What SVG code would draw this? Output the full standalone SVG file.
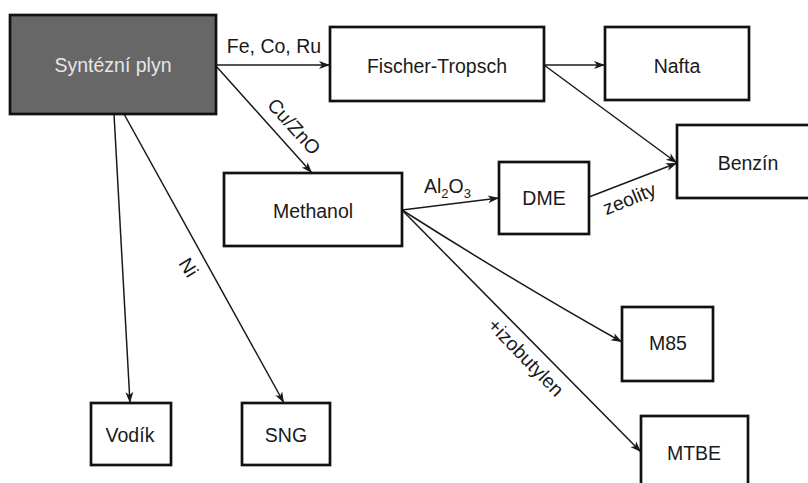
<svg xmlns="http://www.w3.org/2000/svg" width="808" height="483" viewBox="0 0 808 483">
<style>
.box{fill:#fff;stroke:#111;stroke-width:2.7}
.dark{fill:#676767;stroke:#111;stroke-width:2.7}
.t{font-family:"Liberation Sans",Arial,sans-serif;font-size:19.5px;fill:#1a1a1a;text-anchor:middle}
.tl{fill:#e6e6e6}
.c{fill:none;stroke:#1a1a1a;stroke-width:1.5;marker-end:url(#ah)}
</style>
<defs>
<marker id="ah" markerUnits="userSpaceOnUse" markerWidth="12" markerHeight="10" refX="11" refY="4" orient="auto" viewBox="0 0 12 8">
<path d="M0,0 L11,4 L0,8 L3,4 z" fill="#1a1a1a"/>
</marker>
</defs>
<rect width="808" height="483" fill="#fff"/>
<g id="connectors">
<line class="c" x1="216" y1="65" x2="330" y2="65"/>
<line class="c" x1="216" y1="66" x2="312" y2="173"/>
<line class="c" x1="114" y1="114" x2="130" y2="403"/>
<line class="c" x1="124" y1="114" x2="284" y2="403"/>
<line class="c" x1="544" y1="65" x2="605" y2="65"/>
<line class="c" x1="544" y1="65" x2="677" y2="163"/>
<line class="c" x1="589" y1="197" x2="677" y2="163"/>
<line class="c" x1="402" y1="210" x2="499" y2="198"/>
<path class="c" d="M402,210 Q520,285 622,342"/>
<line class="c" x1="402" y1="210" x2="641" y2="452"/>
<text class="t" x="274" y="53">Fe, Co, Ru</text>
<text class="t" transform="translate(289,131) rotate(48)">Cu/ZnO</text>
<text class="t" transform="translate(183,271) rotate(58)">Ni</text>
<text class="t" x="424" y="193" style="text-anchor:start">Al<tspan font-size="13" dy="5">2</tspan><tspan dy="-5">O</tspan><tspan font-size="13" dy="5">3</tspan></text>
<text class="t" transform="translate(632,205) rotate(-22)">zeolity</text>
<text class="t" transform="translate(521,362) rotate(46)">+izobutylen</text>
</g>
<g id="syngas">
<rect class="dark" x="10" y="15" width="206" height="99"/>
<text class="t tl" x="113" y="72">Syntézní plyn</text>
</g>
<g id="fischer">
<rect class="box" x="330" y="27" width="214" height="74"/>
<text class="t" x="437" y="73">Fischer-Tropsch</text>
</g>
<g id="nafta">
<rect class="box" x="605" y="27" width="144" height="73"/>
<text class="t" x="677" y="73">Nafta</text>
</g>
<g id="benzin">
<rect class="box" x="677" y="125" width="140" height="73"/>
<text class="t" x="748" y="170">Benzín</text>
</g>
<g id="methanol">
<rect class="box" x="224" y="173" width="178" height="73"/>
<text class="t" x="313" y="218">Methanol</text>
</g>
<g id="dme">
<rect class="box" x="499" y="162" width="90" height="72"/>
<text class="t" x="544" y="205">DME</text>
</g>
<g id="m85">
<rect class="box" x="622" y="307" width="91" height="74"/>
<text class="t" x="668" y="350">M85</text>
</g>
<g id="mtbe">
<rect class="box" x="641" y="416" width="107" height="80"/>
<text class="t" x="694" y="460">MTBE</text>
</g>
<g id="vodik">
<rect class="box" x="91" y="403" width="80" height="62"/>
<text class="t" x="130" y="442">Vodík</text>
</g>
<g id="sng">
<rect class="box" x="242" y="403" width="88" height="62"/>
<text class="t" x="286" y="442">SNG</text>
</g>
</svg>
